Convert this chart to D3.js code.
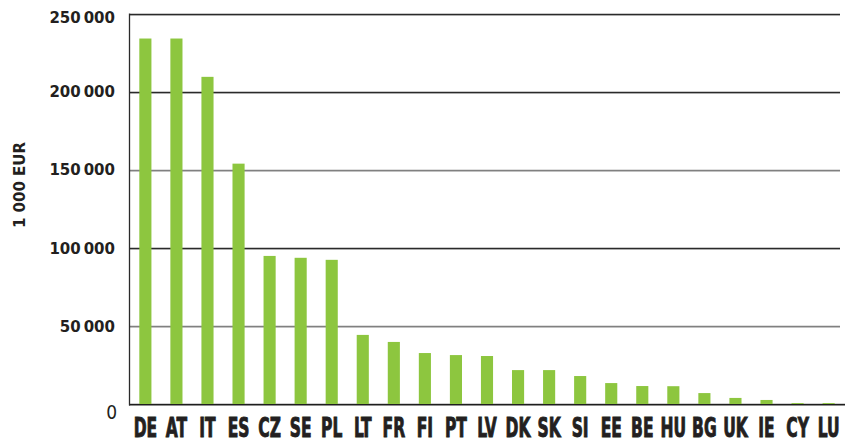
<!DOCTYPE html>
<html>
<head>
<meta charset="utf-8">
<script src="https://cdn.jsdelivr.net/npm/d3@7/dist/d3.min.js"></script>
<style>
  html, body { margin: 0; padding: 0; background: #fff; }
  svg { display: block; }
</style>
</head>
<body>
<svg id="chart" width="850" height="442"></svg>
<script>
// ---- data ----
const countries = ["DE","AT","IT","ES","CZ","SE","PL","LT","FR","FI","PT","LV","DK","SK","SI","EE","BE","HU","BG","UK","IE","CY","LU"];
const values = [234000,234000,209500,154000,95000,93800,92500,44500,40000,32900,31600,31000,22000,22000,18200,13700,11800,11700,7300,4200,2900,900,900];
const yTicks = [50000,100000,150000,200000,250000];
const lightTicks = [50000,150000];
const yTitle = "1 000 EUR";

(function () {
const svg = d3.select("#chart");
const pLeft = 130, pRight = 844, pTop = 13.5, pBottom = 404.5;

const x = d3.scaleBand().domain(countries).range([pLeft, pRight]).paddingInner(0.61).paddingOuter(0.3);
const y = d3.scaleLinear().domain([0, 250000]).range([pBottom, pTop]);

const fmt = v => d3.format(",")(v).replace(/,/g, "\u2009");

// gridlines
const grid = svg.append("g");
yTicks.forEach(t => {
  const yy = Math.round(y(t)) + 0.5;
  grid.append("line").attr("x1", pLeft).attr("x2", 840).attr("y1", yy + 1).attr("y2", yy + 1)
    .attr("stroke", "#d8d8d8").attr("stroke-width", 1);
  grid.append("line").attr("x1", pLeft).attr("x2", 840).attr("y1", yy).attr("y2", yy)
    .attr("stroke", lightTicks.includes(t) ? "#808080" : "#2a2a2a").attr("stroke-width", 1.4);
});
svg.append("line").attr("x1", 129).attr("x2", 845).attr("y1", pBottom - 1).attr("y2", pBottom - 1)
  .attr("stroke", "#d0d0d0").attr("stroke-width", 1);

// bars
svg.append("g").selectAll("rect").data(countries).join("rect")
  .attr("x", d => x(d))
  .attr("width", x.bandwidth())
  .attr("y", (d, i) => y(values[i]))
  .attr("height", (d, i) => y(0) - y(values[i]))
  .attr("fill", "#8dc63f");

// axes lines
svg.append("line").attr("x1", 129).attr("x2", 845).attr("y1", pBottom + 0.3).attr("y2", pBottom + 0.3)
  .attr("stroke", "#1e1e1e").attr("stroke-width", 1.4);
svg.append("line").attr("x1", 129.5).attr("x2", 129.5).attr("y1", pTop).attr("y2", pBottom + 1)
  .attr("stroke", "#2a2a2a").attr("stroke-width", 1.3);

// y tick labels
const yl = svg.append("g").attr("font-family", "'DejaVu Sans', sans-serif").attr("font-weight", "bold")
  .attr("font-size", 15).attr("fill", "#231f20").attr("text-anchor", "end");
yTicks.forEach(t => {
  yl.append("text").attr("x", 115).attr("y", y(t) + (t === 250000 ? 4 : 0)).attr("dy", "0.36em").text(fmt(t));
});
svg.append("text").attr("x", 117).attr("y", 419).attr("text-anchor", "end")
  .attr("font-family", "'DejaVu Sans Condensed', 'DejaVu Sans', sans-serif").attr("font-stretch", "condensed")
  .attr("font-size", 19).attr("fill", "#231f20").text("0");

// y title
svg.append("text").attr("transform", "translate(25,185) rotate(-90)").attr("text-anchor", "middle")
  .attr("font-family", "'DejaVu Sans', sans-serif").attr("font-weight", "bold").attr("font-size", 15)
  .attr("fill", "#231f20").text(yTitle);

// x labels (condensed bold)
const xl = svg.append("g").attr("font-family", "'DejaVu Sans Condensed', 'DejaVu Sans', sans-serif")
  .attr("font-stretch", "condensed").attr("font-weight", "bold").attr("font-size", 26)
  .attr("fill", "#231f20").attr("stroke", "#231f20").attr("stroke-width", 0.9);
const probe = xl.append("text").text("DE");
const w = probe.node().getComputedTextLength();
probe.remove();
const sx = 23.5 / w;
countries.forEach(c => {
  const cx = x(c) + x.bandwidth() / 2;
  xl.append("text").attr("transform", `translate(${cx},437) scale(${sx},1)`)
    .attr("text-anchor", "middle").text(c);
});
})();
</script>
</body>
</html>
